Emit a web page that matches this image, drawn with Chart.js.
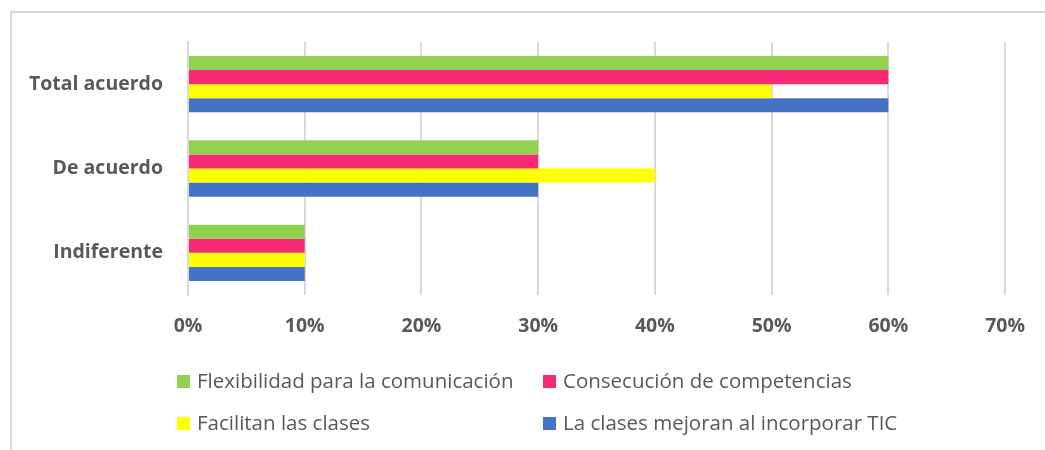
<!DOCTYPE html>
<html>
<head>
<meta charset="utf-8">
<script src="https://cdn.jsdelivr.net/npm/chart.js@4/dist/chart.umd.min.js"></script>
<style>
  body { margin: 0; background: #fff; }
  #wrap { position: relative; width: 1045px; height: 450px; overflow: hidden; }
  #frame { position: absolute; left: 10px; top: 11px; width: 1100px; height: 500px;
           border-top: 2px solid #d9d9d9; border-left: 2px solid #d9d9d9; }
  canvas { position: absolute; left: 0; top: 0; }
  .leg { position: absolute; font-family: "Open Sans", sans-serif; font-size: 20.5px;
         color: #595959; white-space: nowrap; line-height: 20px; }
  .leg span { display: inline-block; width: 13px; height: 13px; margin-right: 7px; vertical-align: 0px; }
</style>
</head>
<body>
<div id="wrap">
  <div id="frame"></div>
  <canvas id="myChart" width="1045" height="450"></canvas>
</div>
<script>
var categorias = ['Total acuerdo', 'De acuerdo', 'Indiferente'];
var flexibilidad = [60, 30, 10];
var consecucion = [60, 30, 10];
var facilitan = [50, 40, 10];
var mejoran = [60, 30, 10];
var series = ['Flexibilidad para la comunicación', 'Consecución de competencias', 'Facilitan las clases', 'La clases mejoran al incorporar TIC'];
var colores = ['#92D050', '#F72B75', '#FFFF00', '#4472C4'];
var ticksX = [0, 10, 20, 30, 40, 50, 60, 70];

var gris = '#595959';
var ctx = document.getElementById('myChart').getContext('2d');
var myChart = new Chart(ctx, {
    type: 'bar',
    data: {
        labels: categorias,
        datasets: [flexibilidad, consecucion, facilitan, mejoran].map(function (d, i) {
            return { label: series[i], data: d, backgroundColor: colores[i],
                     categoryPercentage: 0.667, barPercentage: 1 };
        })
    },
    options: {
        indexAxis: 'y',
        responsive: false,
        animation: false,
        layout: { padding: { top: 42, right: 33, left: 0, bottom: 0 } },
        plugins: { legend: { display: false }, tooltip: { enabled: false } },
        scales: {
            x: {
                min: 0, max: 70,
                afterBuildTicks: function (s) { s.ticks = ticksX.map(function (v) { return { value: v }; }); },
                afterFit: function (s) { s.height = 155; },
                grid: { color: '#d9d9d9', lineWidth: 2, drawTicks: false },
                border: { display: false },
                ticks: { padding: 20, color: gris, font: { family: 'Open Sans', size: 19.5, weight: 'bold' },
                         callback: function (v) { return v + '%'; } }
            },
            y: {
                afterFit: function (s) { s.width = 188; },
                grid: { display: false, drawTicks: false },
                border: { color: '#d9d9d9', width: 2 },
                ticks: { padding: 25, color: gris, font: { family: 'Open Sans', size: 19.5, weight: 'bold' } }
            }
        }
    }
});

// leyenda en dos columnas como en el original
var posLeyenda = [[177, 370], [543, 370], [177, 412], [543, 412]];
var wrap = document.getElementById('wrap');
series.forEach(function (s, i) {
    var d = document.createElement('div');
    d.className = 'leg';
    d.style.left = posLeyenda[i][0] + 'px';
    d.style.top = posLeyenda[i][1] + 'px';
    d.innerHTML = '<span style="background:' + colores[i] + '"></span>' + s;
    wrap.appendChild(d);
});
</script>
</body>
</html>
